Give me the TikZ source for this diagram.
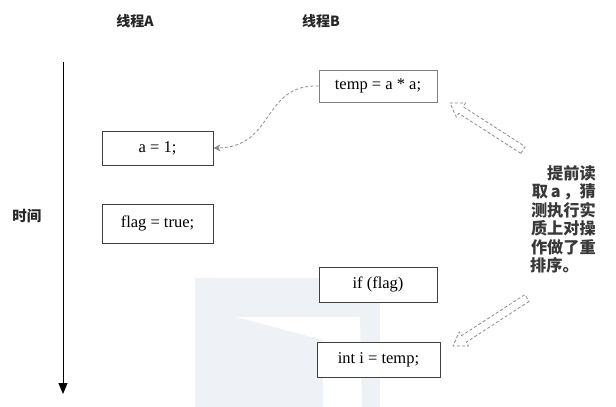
\documentclass[tikz,border=0pt]{standalone}
\usepackage{fontspec}
\setmainfont{Liberation Serif}
\newfontfamily\cjk{Noto Sans CJK SC}
\usetikzlibrary{arrows.meta,calc}
\definecolor{wm}{HTML}{EEF1F5}
\definecolor{boxline}{HTML}{404040}
\definecolor{dashc}{HTML}{8C8C8C}
\tikzset{
  codebox/.style={draw=boxline,line width=0.9pt,fill=white,inner sep=0pt,font=\fontsize{16.5}{19}\selectfont},
  title/.style={font=\cjk\bfseries\fontsize{14}{16}\selectfont,text=black!85},
  note/.style={font=\cjk\bfseries\fontsize{16.2}{18}\selectfont,text=black!78,inner sep=0pt},
  dashline/.style={draw=dashc,line width=0.8pt,dash pattern=on 3pt off 2.2pt},
}
\newcommand\fatarrow[2]{%
  \coordinate (hb#1) at ($(#2)!13pt!(#1)$);
  \draw[dashline,line join=round]
    ($(#1)!4pt!90:(#2)$) -- ($(hb#1)!4pt!-90:(#1)$) -- ($(hb#1)!8.5pt!-90:(#1)$) -- (#2)
    -- ($(hb#1)!8.5pt!90:(#1)$) -- ($(hb#1)!4pt!90:(#1)$) -- ($(#1)!4pt!-90:(#2)$) -- cycle;}
\begin{document}
\begin{tikzpicture}[x=1pt,y=-1pt]
\useasboundingbox (0,0) rectangle (616,407);
\fill[white] (0,0) rectangle (616,407);
% watermark
\fill[wm] (195,278) rectangle (380,407);
\fill[white] (236,317) -- (360,317) -- (362,407) -- (323,407) -- (323,340) -- cycle;
% titles
\node[title] (tA) at (135,21) {线程A};
\node[title] (tB) at (321,21) {线程B};
\node[title,font=\cjk\bfseries\fontsize{14.5}{16}\selectfont] (time) at (27,216) {时间};
% time axis
\coordinate (ax0) at (63,62);
\coordinate (ax1) at (63,394);
\draw[line width=1pt,-{Triangle[length=11pt,width=9pt]}] (ax0) -- (ax1);
% boxes
\node[codebox,minimum width=111pt,minimum height=34pt] (a1) at (157.5,148) {a = 1;};
\node[codebox,minimum width=111pt,minimum height=39pt] (flag) at (157.5,223.5) {flag = true;};
\node[codebox,draw=black!50,minimum width=118pt,minimum height=32pt] (temp) at (378,86) {temp = a * a;};
\node[codebox,minimum width=118pt,minimum height=35pt] (iff) at (378,284.5) {if (flag)};
\node[codebox,minimum width=123pt,minimum height=35pt] (inti) at (378.5,359.5) {int i = temp;};
% curved connector
\draw[dashline,-{Stealth[length=7pt,width=7pt,inset=2pt]}] (temp.west) .. controls (262,84) and (275,147) .. (a1.east);
% fat arrows
\coordinate (u0) at (523,150);
\coordinate (u1) at (450,103);
\fatarrow{u0}{u1}
\coordinate (l0) at (527,298);
\coordinate (l1) at (453,346);
\fatarrow{l0}{l1}
% note
\node[note,anchor=east] (n1) at (596,173) {提前读};
\node[note,anchor=east] (n2) at (596,192) {取\,a\,，猜};
\node[note,anchor=east] (n3) at (596,210) {测执行实};
\node[note,anchor=east] (n4) at (596,228) {质上对操};
\node[note,anchor=east] (n5) at (596,247) {作做了重};
\node[note,anchor=west] (n6) at (530,265) {排序。};
\end{tikzpicture}
\end{document}
